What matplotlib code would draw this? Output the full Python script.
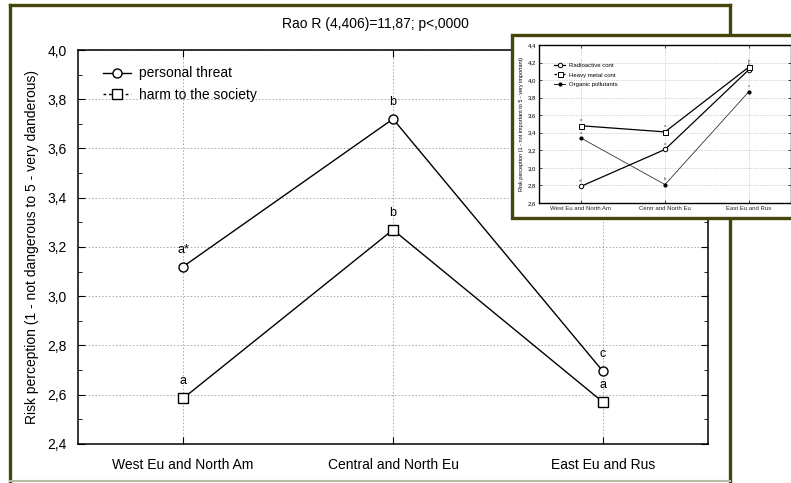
import matplotlib
matplotlib.use('Agg')
import matplotlib.pyplot as plt
from matplotlib.lines import Line2D
from matplotlib.ticker import MultipleLocator, FixedLocator

plt.rcParams['font.family'] = ['Liberation Sans', 'DejaVu Sans']

# main chart data
regions = ["West Eu and North Am", "Central and North Eu", "East Eu and Rus"]
personal = [3.12, 3.72, 2.695]
society = [2.585, 3.27, 2.57]
personal_lbl = ["a*", "b", "c"]
society_lbl = ["a", "b", "a"]

# inset data
inset_regions = ["West Eu and North Am", "Centr and North Eu", "East Eu and Rus"]
radioactive = [2.79, 3.21, 4.12]
heavy_metal = [3.48, 3.41, 4.15]
organic = [3.34, 2.81, 3.87]
radio_lbl = ["a*", "a", "b"]
heavy_lbl = ["a", "a", "b"]
organic_lbl = ["a", "b", "c"]

W, H = 791, 483
olive = '#45450c'
fig = plt.figure(figsize=(W / 100, H / 100), dpi=100)


def fx(px):
    return px / W


def fy(py):
    return 1 - py / H


def frame_line(x0, y0, x1, y1, color=olive, lw=2.4, z=1):
    fig.add_artist(Line2D([fx(x0), fx(x1)], [fy(y0), fy(y1)], transform=fig.transFigure,
                          color=color, lw=lw, zorder=z, solid_capstyle='projecting'))


# outer frame of main chart
frame_line(10, 5, 730, 5)
frame_line(10, 5, 10, 483)
frame_line(730, 5, 730, 483)
frame_line(10, 481, 730, 481, color='#b9b9a6', lw=1.5)

ax = fig.add_axes([fx(78), fy(444), fx(708) - fx(78), fy(50) - fy(444)])
x = list(range(len(regions)))
ax.plot(x, personal, color='black', lw=1, marker='o', ms=6.5, mfc='white', mec='black', zorder=3)
ax.plot(x, society, color='black', lw=1, marker='s', ms=6.5, mfc='white', mec='black', zorder=3)
for xi, v, t in zip(x, personal, personal_lbl):
    ax.annotate(t, (xi, v), xytext=(0, 8), textcoords='offset points', ha='center', va='bottom', fontsize=9)
for xi, v, t in zip(x, society, society_lbl):
    ax.annotate(t, (xi, v), xytext=(0, 8), textcoords='offset points', ha='center', va='bottom', fontsize=9)

ax.set_xlim(-0.5, 2.5)
ax.set_ylim(2.4, 4.0)
ax.xaxis.set_major_locator(FixedLocator(x))
ax.set_xticklabels(regions, fontsize=10)
ax.yaxis.set_major_locator(MultipleLocator(0.2))
ax.yaxis.set_minor_locator(MultipleLocator(0.1))
ax.yaxis.set_major_formatter(lambda v, p: f"{v:.1f}".replace('.', ','))
ax.tick_params(axis='y', which='both', direction='in', right=True, labelsize=10, pad=8)
ax.tick_params(axis='y', which='major', length=5)
ax.tick_params(axis='y', which='minor', length=3)
ax.tick_params(axis='x', direction='in', top=True, length=5, pad=10)
ax.grid(True, ls=(0, (1.5, 2)), color='#a8a8a8', lw=0.7)
for s in ax.spines.values():
    s.set_linewidth(1.1)
ax.set_ylabel("Risk perception (1 - not dangerous to 5 - very danderous)", fontsize=10, labelpad=6)

handles = [Line2D([], [], color='black', lw=1, marker='o', ms=6.5, mfc='white'),
           Line2D([], [], color='black', lw=1, ls=(0, (2, 2)), marker='s', ms=6.5, mfc='white')]
ax.legend(handles, ["personal threat", "harm to the society"], loc='upper left', frameon=False,
          fontsize=10, handlelength=2.0, handletextpad=0.6, labelspacing=0.55,
          bbox_to_anchor=(0.02, 0.99))

fig.text(fx(375), fy(24), "Rao R (4,406)=11,87; p<,0000", ha='center', va='center', fontsize=10)

# inset frame
fig.add_artist(plt.Rectangle((fx(512), fy(218)), fx(800) - fx(512), fy(35) - fy(218),
                             transform=fig.transFigure, facecolor='white', edgecolor=olive,
                             lw=2.4, zorder=2))

ins = fig.add_axes([fx(539), fy(203), fx(791) - fx(539), fy(45) - fy(203)], zorder=3)
xi_ = list(range(len(inset_regions)))
ins.plot(xi_, radioactive, color='black', lw=0.9, marker='o', ms=3.2, mfc='white', mec='black', mew=0.7)
ins.plot(xi_, heavy_metal, color='black', lw=0.9, marker='s', ms=3.6, mfc='white', mec='black', mew=0.7)
ins.plot(xi_, organic, color='#333333', lw=0.6, marker='o', ms=2.0, mfc='black', mec='black')
for vals, lbls in ((radioactive, radio_lbl), (heavy_metal, heavy_lbl), (organic, organic_lbl)):
    for xx, v, t in zip(xi_, vals, lbls):
        ins.annotate(t, (xx, v), xytext=(0, 2.5), textcoords='offset points', ha='center', va='bottom',
                     fontsize=3.2, color='#444444')
ins.set_xlim(-0.5, 2.5)
ins.set_ylim(2.6, 4.4)
ins.xaxis.set_major_locator(FixedLocator(xi_))
ins.set_xticklabels(inset_regions, fontsize=4.3, color='#222222')
ins.yaxis.set_major_locator(MultipleLocator(0.2))
ins.yaxis.set_major_formatter(lambda v, p: f"{v:.1f}".replace('.', ','))
ins.tick_params(axis='both', direction='in', length=2, width=0.5, labelsize=4.3, pad=2, right=True, top=True)
ins.grid(True, ls=(0, (1, 1.5)), color='#b0b0b0', lw=0.5)
for s in ins.spines.values():
    s.set_linewidth(1.0)
ins.set_ylabel("Risk perception (1 - not important to 5 - very important)", fontsize=4.0, labelpad=3)
ih = [Line2D([], [], color='black', lw=0.9, marker='o', ms=3.2, mfc='white', mew=0.7),
      Line2D([], [], color='black', lw=0.9, ls=(0, (2, 1.5)), marker='s', ms=3.6, mfc='white', mew=0.7),
      Line2D([], [], color='black', lw=0.6, marker='o', ms=2.0, mfc='black')]
ins.legend(ih, ["Radioactive cont", "Heavy metal cont", "Organic pollutants"], loc='upper left',
           frameon=False, fontsize=4.3, handlelength=1.8, handletextpad=0.6, labelspacing=0.7,
           bbox_to_anchor=(0.04, 0.92))

fig.savefig('out.png', dpi=100)
